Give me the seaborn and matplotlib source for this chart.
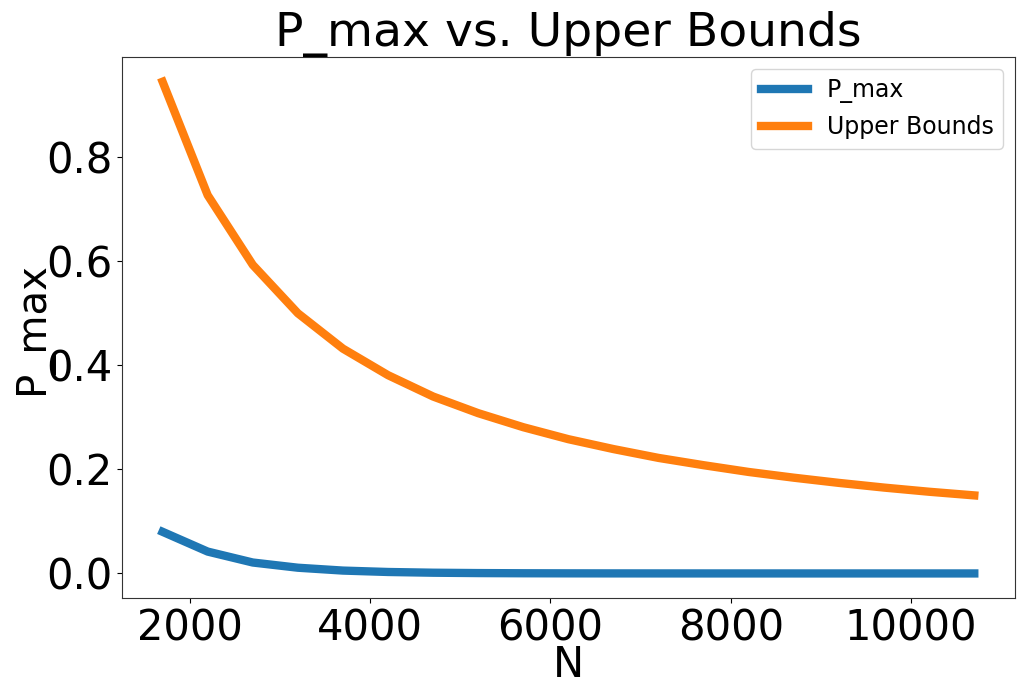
import matplotlib
matplotlib.use("Agg")
import matplotlib.pyplot as plt
import seaborn as sns
import pandas as pd

N = [1700, 2200, 2700, 3200, 3700, 4200, 4700, 5200, 5700, 6200,
     6700, 7200, 7700, 8200, 8700, 9200, 9700, 10200, 10700]
p_max = [0.080, 0.042, 0.021, 0.011, 0.0055, 0.0028, 0.0014, 0.0007, 0.00035,
         0.00018, 0.00009, 0.00004, 0.00002, 0.00001, 0.000005, 0.0000025,
         0.0000012, 0.0000006, 0.0000003]
upper = [0.945, 0.727, 0.593, 0.500, 0.432, 0.381, 0.340, 0.308, 0.281, 0.258,
         0.239, 0.222, 0.208, 0.195, 0.184, 0.174, 0.165, 0.157, 0.150]

df = pd.DataFrame({
    "N": N * 2,
    "value": p_max + upper,
    "series": ["P_max"] * len(N) + ["Upper Bounds"] * len(N),
})

plt.rcParams["font.family"] = ["DejaVu Sans"]
fig = plt.figure(figsize=(10.21, 6.97), dpi=100)
ax = fig.add_axes([0.1195, 0.142, 0.8745, 0.776])
sns.lineplot(data=df, x="N", y="value", hue="series",
             palette=["#1f77b4", "#ff7f0e"], linewidth=6, ax=ax)

ax.set_title("P_max vs. Upper Bounds", fontsize=34, pad=4)
ax.set_xlabel("N", fontsize=30, labelpad=-4)
ax.set_ylabel("P_max", fontsize=29)
ax.yaxis.set_label_coords(-0.077, 0.5)
ax.tick_params(axis="both", labelsize=30)
for s in ax.spines.values():
    s.set_color("#333333")
leg = ax.legend(fontsize=17, frameon=True, loc="upper right")
for line in leg.get_lines():
    line.set_linewidth(6)

fig.savefig("out.png", dpi=100)
